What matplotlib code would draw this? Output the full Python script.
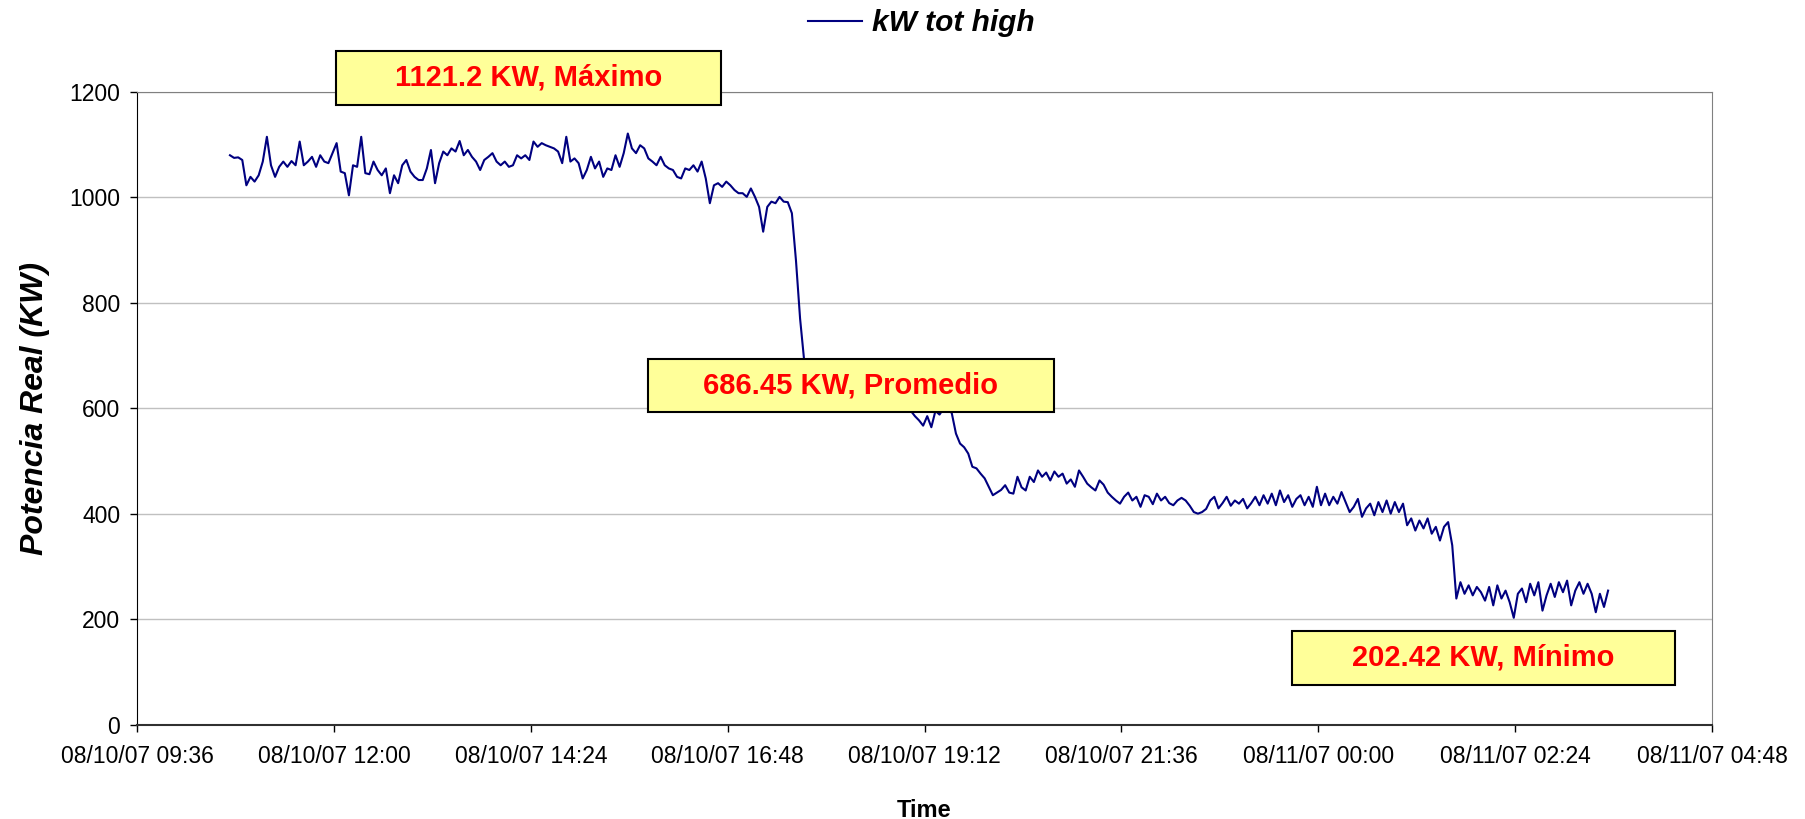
import numpy as np
import pandas as pd
import matplotlib
matplotlib.use("Agg")
import matplotlib.pyplot as plt
import matplotlib.dates as mdates
from matplotlib.patches import Rectangle
from matplotlib.font_manager import FontProperties


# Datos - potencia real (kW tot high), un registro cada 3 minutos
START = "2007-08-10 10:44"
STEP = "3min"

kw_manana = [
    1080, 1075, 1076, 1071, 1023, 1039, 1030, 1042, 1068, 1115,
    1061, 1039, 1058, 1068, 1058, 1069, 1061, 1106, 1061, 1068,
    1077, 1058, 1080, 1068, 1065, 1084, 1103, 1049, 1046, 1004,
    1061, 1058, 1115, 1046, 1044, 1068, 1052, 1042, 1055, 1008,
    1042, 1027, 1061, 1071, 1049, 1039, 1033, 1033, 1055, 1090,
    1027, 1065, 1087, 1080, 1093, 1087, 1107, 1080, 1090, 1077,
    1068, 1052, 1071, 1077, 1084, 1068, 1061, 1068, 1058, 1061,
    1080,
]

kw_tarde = [
    1074, 1080, 1071, 1106, 1096, 1103, 1099, 1096, 1093, 1087,
    1065, 1115, 1068, 1074, 1065, 1036, 1052, 1077, 1055, 1068,
    1039, 1055, 1052, 1080, 1058, 1084, 1121.2, 1093, 1084, 1099,
    1093, 1074, 1068, 1061, 1077, 1061, 1055, 1052, 1039, 1036,
    1055, 1052, 1061, 1049, 1068, 1036, 989, 1023, 1027, 1020,
    1030, 1023, 1014, 1008, 1008, 1001, 1017, 1001, 982, 935,
    982, 992, 989, 1001, 992, 991, 970,
]

kw_caida = [
    880, 770, 690,
    668, 652, 655, 640, 644, 633, 637, 626, 630, 619, 624, 615, 620,
    610, 614, 606, 611, 603, 608, 600, 605, 598, 602, 596, 600, 595,
    585, 577, 567, 585, 564, 595, 588, 600, 605, 590, 552, 533, 526,
    514, 489, 486, 476, 467, 451, 435,
]

kw_noche = [
    440, 445, 454, 440, 438, 470, 450, 444, 470, 460,
    482, 470, 478, 463, 480, 470, 476, 457, 465, 451,
    482, 470, 457, 450, 444, 463, 455, 440, 432, 425,
    419, 432, 440, 425, 432, 413, 435, 432, 418, 438,
    425, 432, 420, 416, 425, 430, 425, 415, 403, 400,
    403, 409, 425, 432, 410, 420, 432, 415, 425, 419,
    428, 410, 420, 432, 416, 435, 419, 438, 416, 444,
    422, 435, 413, 428,
    435, 416, 432, 413, 451, 416, 438, 416, 432, 419,
    441, 422, 403, 413, 428, 394, 410, 419, 397, 422,
    403, 425, 400, 422, 403, 419, 378, 391, 368, 387,
    372, 391, 362, 375, 349, 375, 384, 340,
]

kw_madrugada = [
    239, 270, 248, 264, 245, 261, 251, 235, 261, 226,
    264, 239, 254, 232, 202.42, 248, 258, 232, 267, 245,
    270, 216, 245, 267, 242, 270, 251, 273, 226, 254,
    270, 248, 267, 248, 213, 248, 223, 254,
]

etiquetas = ["1121.2 KW, Máximo", "686.45 KW, Promedio", "202.42 KW, Mínimo"]
# cajas de las etiquetas (px: izquierda, arriba, derecha, abajo)
cajas = [(336, 51, 721, 105), (648, 359, 1054, 412), (1292, 631, 1675, 685)]

y_ticks = [0, 200, 400, 600, 800, 1000, 1200]
x_inicio = "2007-08-10 09:36"
x_fin = "2007-08-11 04:48"

kw = kw_manana + kw_tarde + kw_caida + kw_noche + kw_madrugada
tiempo = pd.date_range(START, periods=len(kw), freq=STEP)

W, H = 1806, 819
fig = plt.figure(figsize=(W / 100, H / 100), dpi=100)
ax = fig.add_axes([137 / W, 1 - 724.5 / H, (1712 - 137) / W, (724.5 - 92) / H])

FAM = "Liberation Sans"
linea, = ax.plot(tiempo, kw, color="#000080", linewidth=1.5, zorder=3)

ax.set_ylim(0, 1200)
ax.set_yticks(y_ticks)
ax.set_xlim(pd.Timestamp(x_inicio), pd.Timestamp(x_fin))
ticks_x = pd.date_range(x_inicio, x_fin, freq="144min")
ax.set_xticks(ticks_x)
ax.xaxis.set_major_formatter(mdates.DateFormatter("%m/%d/%y %H:%M"))

ax.yaxis.grid(True, color="#C0C0C0", linewidth=1)
ax.set_axisbelow(True)

for lbl in ax.get_xticklabels() + ax.get_yticklabels():
    lbl.set_fontfamily(FAM)
    lbl.set_fontsize(16.5)
ax.tick_params(axis="x", length=5, width=1, pad=10, direction="out")
ax.tick_params(axis="y", length=5, width=1, pad=7, direction="out")

ax.spines["top"].set_color("#808080")
ax.spines["right"].set_color("#808080")
ax.spines["left"].set_color("black")
ax.spines["bottom"].set_color("#303030")
ax.spines["bottom"].set_linewidth(1.5)

ax.set_ylabel("Potencia Real (KW)", fontfamily=FAM, fontsize=23,
              fontweight="bold", fontstyle="italic", labelpad=14)
ax.set_xlabel("Time", fontfamily=FAM, fontsize=17, fontweight="bold", labelpad=22)

fig.legend(handles=[linea], labels=["kW tot high"], loc="center",
           bbox_to_anchor=(921.5 / W, 1 - 23 / H), frameon=False,
           prop=FontProperties(family=FAM, weight="bold", style="italic", size=21.5),
           handlelength=1.8, handletextpad=0.35)

# etiquetas amarillas
for texto, (x0, y0, x1, y1) in zip(etiquetas, cajas):
    rect = Rectangle((x0 / W, 1 - y1 / H), (x1 - x0) / W, (y1 - y0) / H,
                     transform=fig.transFigure, facecolor="#FFFF99",
                     edgecolor="black", linewidth=1.5, zorder=10)
    fig.patches.append(rect)
    fig.text((x0 + x1) / 2 / W, 1 - (y0 + y1) / 2 / H, texto, ha="center", va="center",
             color="#FF0000", fontfamily=FAM, fontsize=21, fontweight="bold", zorder=11)

plt.savefig("out.png", dpi=100)
